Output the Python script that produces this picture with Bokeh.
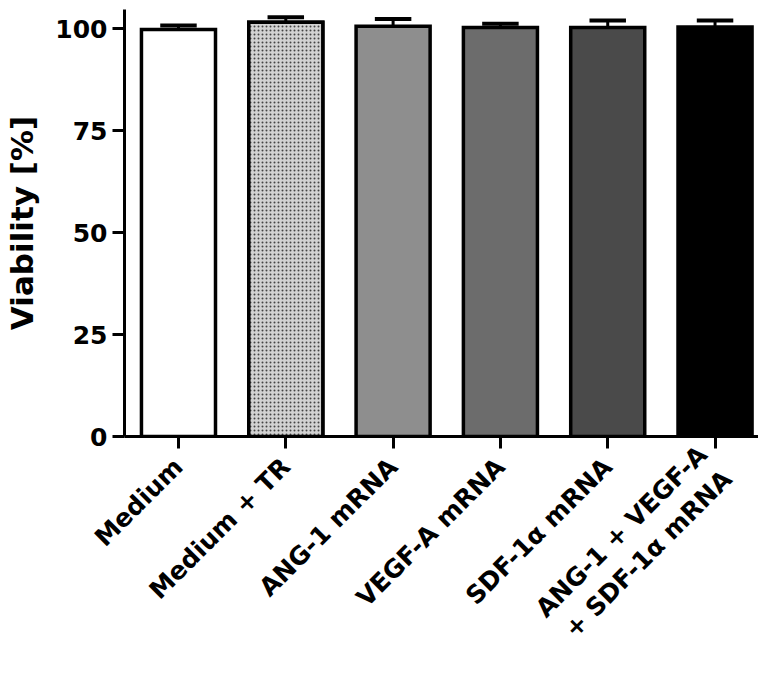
import math
from bokeh.plotting import figure
from bokeh.models import Range1d, FixedTicker, ColumnDataSource
from bokeh.transform import dodge
from bokeh.embed import file_html
from bokeh.resources import INLINE

# ---- data ----
categories = ["Medium", "Medium + TR", "ANG-1 mRNA", "VEGF-A mRNA",
              "SDF-1\u03b1 mRNA", "ANG-1 + VEGF-A\n+ SDF-1\u03b1 mRNA"]
viability = [99.8, 101.6, 100.6, 100.3, 100.3, 100.4]
sem = [1.0, 1.2, 1.8, 0.9, 1.7, 1.6]
y_ticks = [0, 25, 50, 75, 100]
fills = ["#ffffff", "#ffffff", "#8e8e8e", "#6c6c6c", "#4a4a4a", "#000000"]

FONT = "DejaVu Sans"

pos = list(range(len(categories)))
src = ColumnDataSource(dict(
    x=pos,
    val=viability,
    top=[v + e for v, e in zip(viability, sem)],
    fill=fills,
))

p = figure(
    x_range=Range1d(-0.503, 5.405),
    y_range=Range1d(0, 104.7),
    width=758, height=675,
    output_backend="svg", toolbar_location=None,
    min_border_left=124, min_border_right=0,
    min_border_top=9, min_border_bottom=239,
)
p.outline_line_color = None
p.xgrid.grid_line_color = None
p.ygrid.grid_line_color = None
p.background_fill_color = "white"
p.border_fill_color = "white"

# bars
p.vbar(x="x", top="val", width=0.69, source=src, fill_color="fill",
       line_color="black", line_width=3.5, line_join="miter")

# checkered bar (Medium + TR)
hsrc = ColumnDataSource(dict(x=[pos[1]], val=[viability[1]]))
p.vbar(x="x", top="val", width=0.69, source=hsrc, fill_color="#d2d2d2",
       hatch_pattern="dot", hatch_color="#444444", hatch_scale=4.0,
       hatch_weight=3.4, line_color="black", line_width=3.5, line_join="miter")

# error bars (upper only)
p.segment(x0="x", y0="val", x1="x", y1="top", source=src,
          line_color="black", line_width=3)
p.segment(x0=dodge("x", -0.17), y0="top", x1=dodge("x", 0.17), y1="top",
          source=src, line_color="black", line_width=4)

# axes
for ax in (p.xaxis[0], p.yaxis[0]):
    ax.axis_line_width = 3
    ax.axis_line_color = "black"
    ax.major_tick_line_width = 3
    ax.major_tick_line_color = "black"
    ax.major_tick_out = 12
    ax.major_tick_in = 0
    ax.minor_tick_line_color = None
    ax.major_label_text_font = FONT
    ax.major_label_text_font_style = "bold"
    ax.major_label_text_color = "black"

p.yaxis.major_label_text_font_size = "25px"
p.xaxis.major_label_text_font_size = "25px"

p.yaxis.ticker = FixedTicker(ticks=y_ticks)
p.yaxis.major_label_standoff = 5
p.yaxis.axis_label = "Viability [%]"
p.yaxis.axis_label_text_font = FONT
p.yaxis.axis_label_text_font_style = "bold"
p.yaxis.axis_label_text_font_size = "31px"
p.yaxis.axis_label_text_color = "black"
p.yaxis.axis_label_standoff = 12

p.xaxis.ticker = FixedTicker(ticks=pos)
p.xaxis.major_label_overrides = {i: c for i, c in zip(pos, categories)}
p.xaxis.major_label_orientation = math.pi / 4
p.xaxis.major_label_standoff = 14

open("out.html", "w").write(file_html(p, INLINE))
